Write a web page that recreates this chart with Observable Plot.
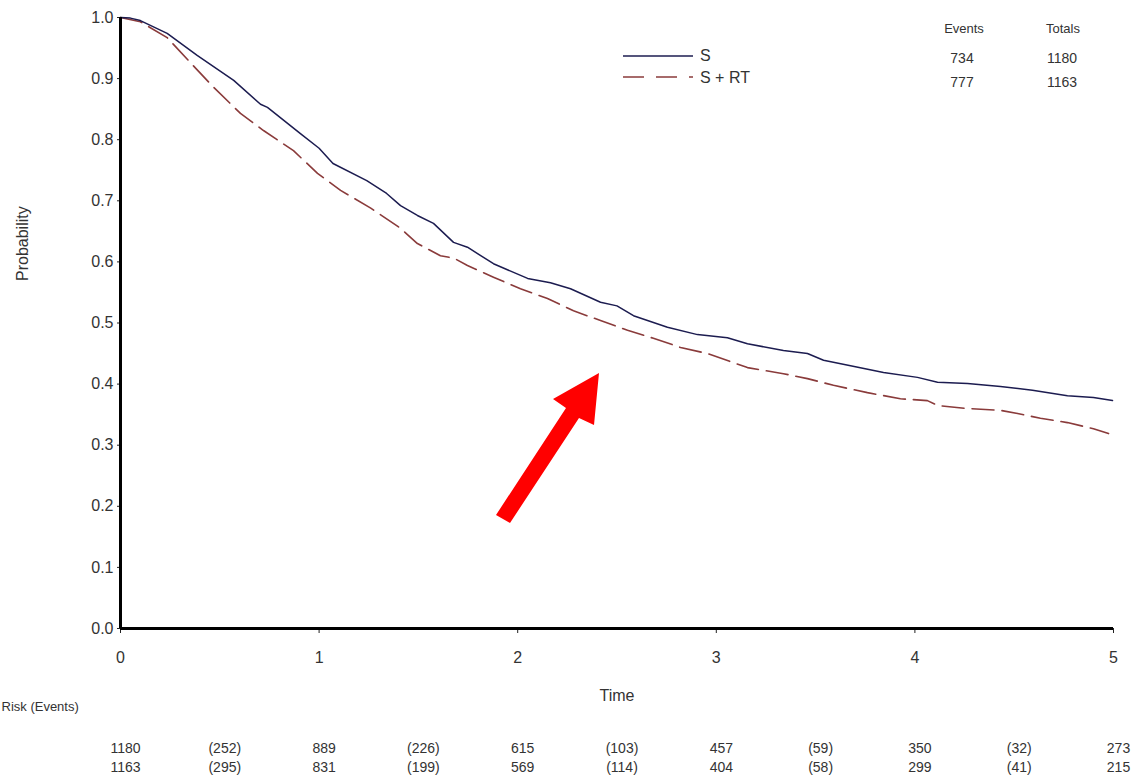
<!DOCTYPE html>
<html><head><meta charset="utf-8">
<script src="https://cdn.jsdelivr.net/npm/d3@7"></script>
<script src="https://cdn.jsdelivr.net/npm/@observablehq/plot@0.6"></script>
<style>
body{margin:0;background:#fff;font-family:"Liberation Sans",Arial,sans-serif;}
#wrap{position:relative;width:1138px;height:779px;overflow:hidden;}
.lbl{position:absolute;transform:translate(-50%,-50%);color:#333;white-space:nowrap;line-height:1;}
</style></head><body><div id="wrap"></div>
<script>
// ---- data ----
const seriesNames = ["S", "S + RT"];
const timeS = [0,0.05,0.1,0.235,0.386,0.57,0.705,0.74,0.906,1.0,1.07,1.24,1.34,1.41,1.495,1.576,1.677,1.747,1.878,2.05,2.165,2.266,2.417,2.5,2.583,2.754,2.905,3.056,3.157,3.338,3.459,3.54,3.676,3.842,4.013,4.114,4.265,4.431,4.592,4.768,4.899,4.995];
const probS = [1.0,0.999,0.995,0.974,0.938,0.897,0.858,0.853,0.81,0.786,0.761,0.733,0.712,0.692,0.676,0.663,0.632,0.624,0.597,0.573,0.566,0.556,0.534,0.528,0.512,0.493,0.481,0.476,0.466,0.455,0.45,0.439,0.43,0.419,0.411,0.403,0.401,0.396,0.39,0.381,0.378,0.373];
const timeSRT = [0,0.1,0.235,0.367,0.468,0.604,0.72,0.871,0.992,1.108,1.26,1.41,1.495,1.611,1.68,1.747,1.878,2.014,2.15,2.281,2.417,2.553,2.683,2.82,2.956,3.087,3.157,3.338,3.459,3.59,3.761,3.927,4.063,4.114,4.265,4.431,4.517,4.632,4.768,4.899,4.975];
const probSRT = [1.0,0.993,0.967,0.921,0.886,0.843,0.815,0.782,0.745,0.717,0.688,0.655,0.63,0.61,0.606,0.594,0.575,0.556,0.54,0.52,0.504,0.488,0.475,0.46,0.45,0.435,0.427,0.417,0.409,0.398,0.386,0.376,0.373,0.365,0.36,0.357,0.352,0.344,0.337,0.327,0.319];

const yTicks = [0,0.1,0.2,0.3,0.4,0.5,0.6,0.7,0.8,0.9,1.0];
const xTicks = [0,1,2,3,4,5];

const riskTimes = [0,0.5,1,1.5,2,2.5,3,3.5,4,4.5,5];
const riskS   = ["1180","(252)","889","(226)","615","(103)","457","(59)","350","(32)","273"];
const riskSRT = ["1163","(295)","831","(199)","569","(114)","404","(58)","299","(41)","215"];

const eventsHeader = ["Events","Totals"];
const eventsCounts = [734, 777];
const totalsCounts = [1180, 1163];

// ---- build ----
const dataS = timeS.map((t,i)=>({t, p: probS[i]}));
const dataSRT = timeSRT.map((t,i)=>({t, p: probSRT[i]}));
const riskRows = riskTimes.map((t,i)=>({t, a: riskS[i], b: riskSRT[i]}));

const fontFam = "Liberation Sans, Arial, sans-serif";
const plot = Plot.plot({
  width: 1138, height: 779,
  marginLeft: 120, marginRight: 25, marginTop: 17, marginBottom: 151,
  style: {fontFamily: fontFam, background: "white", overflow: "visible"},
  x: {domain: [0,5]},
  y: {domain: [0,1]},
  marks: [
    Plot.axisY({ticks: yTicks, tickFormat: d3.format(".1f"), tickSize: 3, tickPadding: 4, fontSize: 16, fill: "#333", stroke: "#222", label: null}),
    Plot.axisX({ticks: xTicks, tickFormat: d=>String(d), tickSize: 5, tickPadding: 18, fontSize: 16, fill: "#333", stroke: "#222", label: null}),
    Plot.line(dataSRT, {x: "t", y: "p", stroke: "#8a3b3b", strokeWidth: 1.6, strokeDasharray: "22,8"}),
    Plot.line(dataS, {x: "t", y: "p", stroke: "#1c1c50", strokeWidth: 1.5}),
    Plot.ruleX([0], {stroke: "#000", strokeWidth: 3}),
    Plot.ruleY([0], {stroke: "#000", strokeWidth: 3}),
    Plot.text(["Probability"], {frameAnchor: "left", rotate: -90, dx: -98, dy: -42, fontSize: 16, fill: "#333"}),
    Plot.text(["Time"], {frameAnchor: "bottom", dy: 72, fontSize: 16, fill: "#333"}),
    Plot.text(["Risk (Events)"], {frameAnchor: "bottom-left", textAnchor: "start", dx: -119, dy: 82, fontSize: 13, fill: "#333"}),
    Plot.text(riskRows, {x: "t", text: "a", frameAnchor: "bottom", dx: 5, dy: 124, fontSize: 14, fill: "#333"}),
    Plot.text(riskRows, {x: "t", text: "b", frameAnchor: "bottom", dx: 5, dy: 143, fontSize: 14, fill: "#333"})
  ]
});
const wrap = document.getElementById("wrap");
wrap.appendChild(plot);

// legend
const leg = document.createElement("div");
leg.style.cssText = "position:absolute;left:620px;top:44px;";
leg.innerHTML = `<svg width="140" height="48" style="overflow:visible;font-family:${fontFam}">
  <line x1="3" x2="73" y1="12" y2="12" stroke="#1c1c50" stroke-width="1.5"/>
  <text x="80" y="17" font-size="16" fill="#333">${seriesNames[0]}</text>
  <line x1="3" x2="73" y1="33" y2="33" stroke="#8a3b3b" stroke-width="1.6" stroke-dasharray="21,12"/>
  <text x="80" y="39" font-size="16" fill="#333">${seriesNames[1]}</text>
</svg>`;
wrap.appendChild(leg);

// annotation arrow
const arr = document.createElementNS("http://www.w3.org/2000/svg","svg");
arr.setAttribute("width","1138"); arr.setAttribute("height","779");
arr.style.cssText = "position:absolute;left:0;top:0;pointer-events:none;";
arr.innerHTML = `<polygon points="496,515 566,408 553,399 599,373 594,425 579,418 510,523" fill="#ff0000"/>`;
wrap.appendChild(arr);

// events table
function addLbl(txt, x, y, size){
  const d = document.createElement("div");
  d.className = "lbl"; d.textContent = txt;
  d.style.left = x+"px"; d.style.top = y+"px"; d.style.fontSize = size+"px";
  wrap.appendChild(d);
}
addLbl(eventsHeader[0], 964, 28, 13);
addLbl(eventsHeader[1], 1063, 28, 13);
eventsCounts.forEach((v,i)=>addLbl(String(v), 962, 58 + i*24, 14));
totalsCounts.forEach((v,i)=>addLbl(String(v), 1062, 58 + i*24, 14));
</script></body></html>
